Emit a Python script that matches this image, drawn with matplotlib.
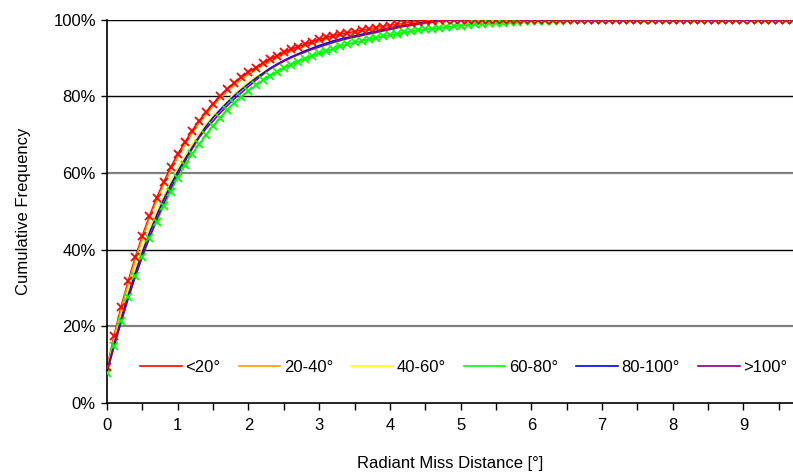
import matplotlib
matplotlib.use("Agg")
import matplotlib.pyplot as plt
from matplotlib.ticker import MultipleLocator, FuncFormatter

plt.rcParams['font.family'] = ['Liberation Sans', 'DejaVu Sans']

# miss distance in degrees, one point every 0.1 deg
distance = [round(0.1 * i, 1) for i in range(98)]

labels = ['<20°', '20-40°', '40-60°', '60-80°', '80-100°', '>100°']
colors = ['#ff0000', '#ff9900', '#ffff00', '#00ff00', '#0000ff', '#800080']

# cumulative frequency in percent
lt20 = [9.3, 17.6, 25.2, 31.9, 38.1, 43.7, 48.8, 53.5, 57.6, 61.5,
        65.0, 68.0, 71.0, 73.6, 75.9, 78.1, 80.0, 81.9, 83.5, 85.0,
        86.4, 87.5, 88.7, 89.7, 90.6, 91.6, 92.3, 93.0, 93.6, 94.3,
        94.9, 95.4, 95.9, 96.3, 96.6, 96.9, 97.3, 97.6, 97.9, 98.2,
        98.5, 98.8, 99.1, 99.3, 99.5, 99.7, 99.8, 99.9, 100, 100,
        100, 100, 100, 100, 100, 100, 100, 100, 100, 100,
        100, 100, 100, 100, 100, 100, 100, 100, 100, 100,
        100, 100, 100, 100, 100, 100, 100, 100, 100, 100,
        100, 100, 100, 100, 100, 100, 100, 100, 100, 100,
        100, 100, 100, 100, 100, 100, 100, 100]
d20_40 = [9.0, 17.0, 24.5, 31.2, 37.4, 43.0, 48.1, 52.7, 56.9, 60.7,
          64.2, 67.3, 70.3, 72.9, 75.3, 77.5, 79.5, 81.3, 82.9, 84.4,
          85.7, 86.9, 88.0, 89.0, 90.0, 90.9, 91.7, 92.4, 93.1, 93.7,
          94.3, 94.9, 95.4, 95.8, 96.2, 96.6, 97.0, 97.3, 97.7, 98.0,
          98.3, 98.6, 98.9, 99.1, 99.3, 99.5, 99.7, 99.8, 99.9, 100,
          100, 100, 100, 100, 100, 100, 100, 100, 100, 100,
          100, 100, 100, 100, 100, 100, 100, 100, 100, 100,
          100, 100, 100, 100, 100, 100, 100, 100, 100, 100,
          100, 100, 100, 100, 100, 100, 100, 100, 100, 100,
          100, 100, 100, 100, 100, 100, 100, 100]
d40_60 = [8.7, 16.0, 23.0, 29.4, 35.3, 40.7, 45.6, 50.0, 54.1, 57.9,
          61.4, 64.5, 67.5, 70.2, 72.7, 74.9, 76.9, 78.9, 80.7, 82.3,
          83.8, 85.1, 86.2, 87.2, 88.2, 89.1, 90.0, 90.8, 91.6, 92.3,
          93.0, 93.6, 94.1, 94.6, 95.1, 95.5, 95.9, 96.3, 96.7, 97.1,
          97.5, 97.9, 98.3, 98.6, 98.9, 99.2, 99.4, 99.6, 99.8, 99.9,
          100, 100, 100, 100, 100, 100, 100, 100, 100, 100,
          100, 100, 100, 100, 100, 100, 100, 100, 100, 100,
          100, 100, 100, 100, 100, 100, 100, 100, 100, 100,
          100, 100, 100, 100, 100, 100, 100, 100, 100, 100,
          100, 100, 100, 100, 100, 100, 100, 100]
d60_80 = [7.9, 14.9, 21.5, 27.6, 33.2, 38.2, 43.1, 47.3, 51.4, 55.2,
          58.8, 62.0, 64.9, 67.5, 70.0, 72.3, 74.4, 76.4, 78.2, 79.9,
          81.4, 82.9, 84.2, 85.4, 86.4, 87.4, 88.3, 89.1, 89.9, 90.6,
          91.3, 91.9, 92.5, 93.1, 93.6, 94.1, 94.5, 94.9, 95.3, 95.7,
          96.0, 96.4, 96.7, 97.0, 97.3, 97.5, 97.7, 97.9, 98.1, 98.3,
          98.5, 98.7, 98.8, 99.0, 99.1, 99.2, 99.3, 99.4, 99.5, 99.6,
          99.6, 99.7, 99.7, 99.8, 99.8, 99.9, 99.9, 99.9, 100, 100,
          100, 100, 100, 100, 100, 100, 100, 100, 100, 100,
          100, 100, 100, 100, 100, 100, 100, 100, 100, 100,
          100, 100, 100, 100, 100, 100, 100, 100]
d80_100 = [8.5, 15.4, 22.0, 28.2, 34.0, 39.4, 44.4, 48.9, 53.1, 56.9,
           60.4, 63.6, 66.6, 69.5, 72.2, 74.5, 76.5, 78.4, 80.2, 81.8,
           83.3, 84.7, 86.0, 87.3, 88.4, 89.4, 90.3, 91.1, 91.9, 92.6,
           93.3, 93.9, 94.5, 95.0, 95.4, 95.8, 96.2, 96.6, 97.0, 97.4,
           97.8, 98.2, 98.5, 98.8, 99.1, 99.4, 99.6, 99.8, 100, 100,
           100, 100, 100, 100, 100, 100, 100, 100, 100, 100,
           100, 100, 100, 100, 100, 100, 100, 100, 100, 100,
           100, 100, 100, 100, 100, 100, 100, 100, 100, 100,
           100, 100, 100, 100, 100, 100, 100, 100, 100, 100,
           100, 100, 100, 100, 100, 100, 100, 100]
gt100 = [8.2, 14.8, 21.2, 27.3, 33.0, 38.3, 43.2, 47.8, 52.1, 56.0,
         59.7, 63.0, 66.2, 69.2, 71.6, 73.6, 75.7, 77.6, 79.4, 81.0,
         82.6, 84.2, 85.7, 87.1, 88.2, 89.2, 90.1, 90.9, 91.6, 92.3,
         92.9, 93.5, 94.1, 94.6, 95.1, 95.5, 95.9, 96.3, 96.7, 97.1,
         97.5, 97.9, 98.3, 98.6, 98.9, 99.2, 99.5, 99.7, 99.9, 100,
         100, 100, 100, 100, 100, 100, 100, 100, 100, 100,
         100, 100, 100, 100, 100, 100, 100, 100, 100, 100,
         100, 100, 100, 100, 100, 100, 100, 100, 100, 100,
         100, 100, 100, 100, 100, 100, 100, 100, 100, 100,
         100, 100, 100, 100, 100, 100, 100, 100]

series = [lt20, d20_40, d40_60, d60_80, d80_100, gt100]

fig = plt.figure(figsize=(7.93, 4.72), dpi=100)
ax = fig.add_axes([0.135, 0.146, 0.865, 0.812])

# horizontal gridlines
for g in [20, 40, 60, 80, 100]:
    if g in (20, 60):
        ax.axhline(g, color='#808080', lw=1.6, zorder=0)
    else:
        ax.axhline(g, color='black', lw=1.0, zorder=0)

for vals, lab, col in zip(series, labels, colors):
    ax.plot(distance, vals, color=col, lw=1.2, label=lab, zorder=2)

# the <20 and 60-80 series carry x markers
ax.plot(distance, d60_80, 'x', color=colors[3], ms=5.5, mew=1.3, zorder=3)
ax.plot(distance, lt20, 'x', color=colors[0], ms=5.5, mew=1.3, zorder=3)

ax.set_xlim(0, 9.7)
ax.set_ylim(0, 100)
ax.xaxis.set_major_locator(MultipleLocator(1))
ax.xaxis.set_minor_locator(MultipleLocator(0.5))
ax.yaxis.set_major_locator(MultipleLocator(20))
ax.yaxis.set_major_formatter(FuncFormatter(lambda v, p: '%d%%' % v))

ax.spines['right'].set_visible(False)
ax.spines['top'].set_visible(False)
for s in ['left', 'bottom']:
    ax.spines[s].set_linewidth(1.2)
    ax.spines[s].set_color('black')

ax.tick_params(axis='x', which='both', direction='out', length=5, width=1, labelsize=12, pad=6)
ax.tick_params(axis='y', which='both', direction='out', length=4, width=1, labelsize=12, pad=4)

ax.set_xlabel('Radiant Miss Distance [°]', fontsize=12, labelpad=16)
ax.set_ylabel('Cumulative Frequency', fontsize=12, labelpad=16)

ax.legend(loc='center', bbox_to_anchor=(0.52, 0.092), ncol=6, frameon=False,
          fontsize=12, handlelength=2.5, handletextpad=0.2, columnspacing=1.1)

fig.savefig('out.png', dpi=100)
